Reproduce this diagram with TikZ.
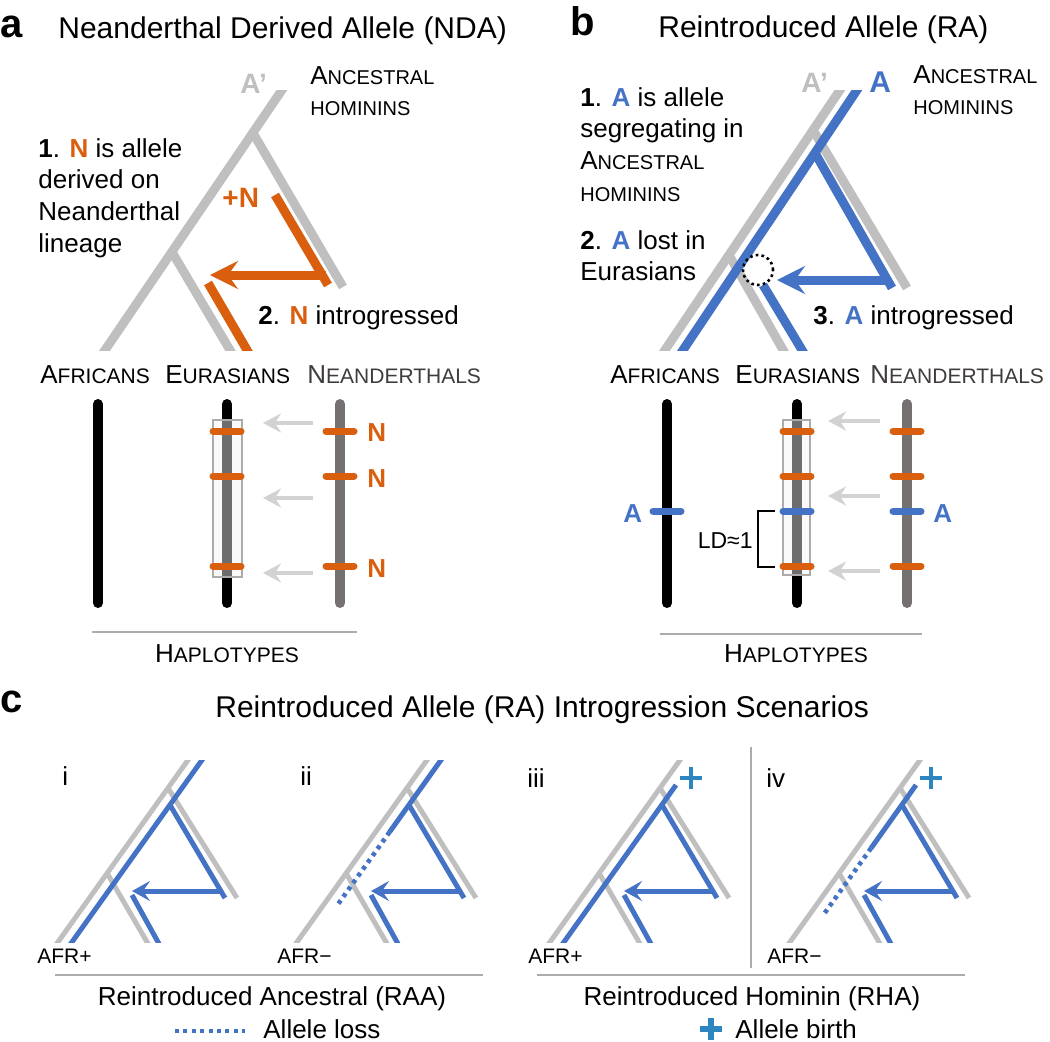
\documentclass[tikz,border=0pt]{standalone}
\usepackage{fontspec}
\setmainfont{Liberation Sans}
\usetikzlibrary{arrows.meta,calc}
\definecolor{ndaorange}{RGB}{217,95,14}
\definecolor{rablue}{RGB}{68,114,196}
\definecolor{treegray}{RGB}{191,191,191}
\definecolor{arrowgray}{RGB}{210,210,210}
\definecolor{neangray}{RGB}{118,113,113}
\definecolor{neantext}{RGB}{64,60,60}
\definecolor{birthblue}{RGB}{46,134,193}
\definecolor{linegray}{RGB}{175,171,171}
\newcommand{\smallcap}[2][10]{{\fontsize{#1}{12}\selectfont #2}}

\begin{document}
\begin{tikzpicture}[x=0.5pt,y=-0.5pt]
        %
        % `branch' is for the big trees, `twig' for the small ones in c.
        % `hap' and `snp' are the haplotype bars and their alleles.
        \tikzstyle{panel} = [font=\fontsize{20}{24}\selectfont\bfseries,anchor=base west,inner sep=0pt]
        \tikzstyle{heading} = [font=\fontsize{15}{18}\selectfont,anchor=base west,inner sep=0pt]
        \tikzstyle{body} = [font=\fontsize{13}{15.8}\selectfont,align=left,anchor=north west,inner sep=0pt]
        \tikzstyle{popn} = [font=\fontsize{13}{16}\selectfont,anchor=base west,inner sep=0pt]
        \tikzstyle{allele} = [font=\fontsize{13}{15}\selectfont\bfseries,anchor=base west,inner sep=0pt]
        \tikzstyle{roman} = [font=\fontsize{13}{16}\selectfont,anchor=base west,inner sep=0pt]
        \tikzstyle{afr} = [font=\fontsize{10.5}{12}\selectfont,anchor=base west,inner sep=0pt]
        \tikzstyle{caption} = [font=\fontsize{13}{15}\selectfont,inner sep=0pt]
        \tikzstyle{branch} = [line width=4.5pt]
        \tikzstyle{twig} = [line width=2.5pt]
        \tikzstyle{hap} = [line width=5pt,line cap=round]
        \tikzstyle{snp} = [line width=3.5pt,line cap=round]
        \tikzstyle{box} = [draw=linegray,line width=1.2pt,fill=black!5,fill opacity=0.45,inner sep=0pt]
        \tikzstyle{flow} = [arrowgray,line width=2pt,-{Stealth[length=9pt,width=9.5pt,inset=3pt]}]
        \tikzstyle{bigflow} = [-{Stealth[length=14pt,width=14pt,inset=5pt]}]
        \tikzstyle{smallflow} = [-{Stealth[length=9pt,width=10pt,inset=3.5pt]}]
        \tikzstyle{loss} = [rablue,line width=2.3pt,dash pattern=on 2pt off 2.2pt]
        \tikzstyle{birth} = [birthblue,line width=2.4pt]
        \tikzstyle{rule} = [linegray,line width=1.2pt]
        %
        \useasboundingbox (0,0) rectangle (1050,1041);
        %
        % Panel a: titles and notes
        \node[panel] (pa) at (0,37) {a};
        \node[heading] (ta) at (58,38) {Neanderthal Derived Allele (NDA)};
        \node[allele,treegray,font=\fontsize{14}{16}\selectfont\bfseries] (aprime) at (240,93) {A’};
        \node[body] (aanc) at (310,66) {A\smallcap{NCESTRAL}\\\smallcap{HOMININS}};
        \node[body] (astep1) at (38,138) {\textbf{1}. \textcolor{ndaorange}{\textbf{N}} is allele\\derived on\\Neanderthal\\lineage};
        \node[allele,ndaorange,font=\fontsize{14}{16}\selectfont\bfseries] (plusn) at (222,207) {+N};
        \node[body] (astep2) at (258,305) {\textbf{2}. \textcolor{ndaorange}{\textbf{N}} introgressed};
        %
        % Panel a: tree
        \begin{scope}
        \clip (0,90) rectangle (520,350);
        \coordinate (aroot) at (101,356);
        \coordinate (atop) at (286,84);
        \coordinate (ajn) at (253,133);
        \coordinate (anean) at (343,287);
        \coordinate (ajl) at (172,252);
        \coordinate (aeur) at (233.5,356);
        \draw[branch,treegray] (aroot) -- (atop);
        \draw[branch,treegray] (ajn) -- (anean);
        \draw[branch,treegray] (ajl) -- (aeur);
        \coordinate (nup) at (275,195);
        \coordinate (ndown) at (328,285);
        \coordinate (nfrom) at (326,275);
        \coordinate (nto) at (210,275);
        \coordinate (nin) at (208,283);
        \coordinate (nout) at (250.5,356);
        \draw[branch,ndaorange] (nup) -- (ndown);
        \draw[branch,ndaorange,bigflow] (nfrom) -- (nto);
        \draw[branch,ndaorange] (nin) -- (nout);
        \end{scope}
        %
        % Panel a: haplotypes
        \node[popn] (aafr) at (40,383) {A\smallcap[10.5]{FRICANS}};
        \node[popn] (aeas) at (165,383) {E\smallcap[10.5]{URASIANS}};
        \node[popn,neantext] (anea) at (307,383) {N\smallcap[10.5]{EANDERTHALS}};
        \coordinate (afrtop) at (98,404);
        \coordinate (afrbot) at (98,603);
        \coordinate (eurtop) at (227,404);
        \coordinate (eurbot) at (227,603);
        \coordinate (neatop) at (340,404);
        \coordinate (neabot) at (340,603);
        \draw[hap,black] (afrtop) -- (afrbot);
        \draw[hap,black] (eurtop) -- (eurbot);
        \draw[hap,neangray] (neatop) -- (neabot);
        \node[box,minimum width=14.5pt,minimum height=78.5pt] (ablock) at (227.5,498.5) {};
        \foreach \y in {431,476,566} {
            \draw[snp,ndaorange] (213,\y) -- (241,\y);
            \draw[snp,ndaorange] (326,\y) -- (354,\y);
        }
        \foreach \y/\k in {441/1,487/2,577/3}
            \node[allele,ndaorange] (nlab\k) at (367,\y) {N};
        \foreach \y/\k in {423/1,498/2,573/3} {
            \coordinate (afrom\k) at (313,\y);
            \coordinate (ato\k) at (263,\y);
            \draw[flow] (afrom\k) -- (ato\k);
        }
        \coordinate (ahl) at (92,632);
        \coordinate (ahr) at (357,632);
        \draw[rule] (ahl) -- (ahr);
        \node[popn,anchor=base] (ahap) at (227,662) {H\smallcap[10.5]{APLOTYPES}};
        %
        % Panel b: titles and notes
        \node[panel] (pb) at (570,35) {b};
        \node[heading] (tb) at (658,37) {Reintroduced Allele (RA)};
        \node[allele,treegray,font=\fontsize{14}{16}\selectfont\bfseries] (bprime) at (801,92) {A’};
        \node[allele,rablue,font=\fontsize{15}{17}\selectfont\bfseries] (ballele) at (869,92) {A};
        \node[body] (banc) at (913,65) {A\smallcap{NCESTRAL}\\\smallcap{HOMININS}};
        \node[body] (bstep1) at (580,87) {\textbf{1}. \textcolor{rablue}{\textbf{A}} is allele\\segregating in\\A\smallcap{NCESTRAL}\\\smallcap{HOMININS}};
        \node[body] (bstep2) at (580,230) {\textbf{2}. \textcolor{rablue}{\textbf{A}} lost in\\Eurasians};
        \node[body] (bstep3) at (813,305) {\textbf{3}. \textcolor{rablue}{\textbf{A}} introgressed};
        %
        % Panel b: tree
        \begin{scope}
        \clip (520,90) rectangle (1050,350);
        \coordinate (broot) at (661,356);
        \coordinate (btop) at (844,84);
        \coordinate (bjn) at (813,130);
        \coordinate (bnean) at (907,288);
        \coordinate (bjl) at (729,255);
        \coordinate (beur) at (786.5,356);
        \draw[branch,treegray] (broot) -- (btop);
        \draw[branch,treegray] (bjn) -- (bnean);
        \draw[branch,treegray] (bjl) -- (beur);
        \coordinate (aroot2) at (679,356);
        \coordinate (atop2) at (861,84);
        \coordinate (aup) at (815,153);
        \coordinate (adown) at (892,288);
        \coordinate (afrom) at (889,280);
        \coordinate (ato) at (777,280);
        \coordinate (ain) at (763,285);
        \coordinate (aout) at (805.6,356);
        \draw[branch,rablue] (aroot2) -- (atop2);
        \draw[branch,rablue] (aup) -- (adown);
        \draw[branch,rablue,bigflow] (afrom) -- (ato);
        \draw[branch,rablue] (ain) -- (aout);
        \end{scope}
        \node[draw,circle,line width=1.3pt,dash pattern=on 1.3pt off 1.6pt,minimum size=15pt,inner sep=0pt] (lost) at (758,270) {};
        %
        % Panel b: haplotypes
        \node[popn] (bafr) at (610,383) {A\smallcap[10.5]{FRICANS}};
        \node[popn] (beas) at (735,383) {E\smallcap[10.5]{URASIANS}};
        \node[popn,neantext] (bnea) at (870,383) {N\smallcap[10.5]{EANDERTHALS}};
        \coordinate (bafrtop) at (667,404);
        \coordinate (bafrbot) at (667,603);
        \coordinate (beurtop) at (797,404);
        \coordinate (beurbot) at (797,603);
        \coordinate (bneatop) at (907,404);
        \coordinate (bneabot) at (907,603);
        \draw[hap,black] (bafrtop) -- (bafrbot);
        \draw[hap,black] (beurtop) -- (beurbot);
        \draw[hap,neangray] (bneatop) -- (bneabot);
        \node[box,minimum width=13.5pt,minimum height=77.5pt] (bblock) at (796.5,497.5) {};
        \foreach \y in {431,476,566} {
            \draw[snp,ndaorange] (783,\y) -- (811,\y);
            \draw[snp,ndaorange] (893,\y) -- (921,\y);
        }
        \draw[snp,rablue] (783,511) -- (811,511);
        \draw[snp,rablue] (893,511) -- (921,511);
        \draw[snp,rablue] (653,511) -- (681,511);
        \node[allele,rablue] (alab1) at (623,522) {A};
        \node[allele,rablue] (alab2) at (933,522) {A};
        \foreach \y/\k in {421/1,496/2,571/3} {
            \coordinate (bfrom\k) at (880,\y);
            \coordinate (bto\k) at (828,\y);
            \draw[flow] (bfrom\k) -- (bto\k);
        }
        % LD bracket
        \coordinate (ldhi) at (775,511);
        \coordinate (ldlo) at (775,567);
        \draw[line width=0.9pt] (ldhi) -- ++(-17,0) |- (ldlo);
        \node[font=\fontsize{11.5}{14}\selectfont,anchor=base east,inner sep=0pt] (ld) at (753,548) {LD≈1};
        \coordinate (bhl) at (660,634);
        \coordinate (bhr) at (922,634);
        \draw[rule] (bhl) -- (bhr);
        \node[popn,anchor=base] (bhap) at (796,662) {H\smallcap[10.5]{APLOTYPES}};
        %
        % Panel c
        \node[panel] (pc) at (0,712) {c};
        \node[heading] (tc) at (215,717) {Reintroduced Allele (RA) Introgression Scenarios};
        \foreach \n/\ox in {i/58,ii/297,iii/550,iv/790} {
            \begin{scope}[shift={(\ox,942)}]
            \coordinate (\n-root) at (-4.3,6);
            \coordinate (\n-top) at (134.3,-188);
            \coordinate (\n-jn) at (110,-154);
            \coordinate (\n-nean) at (179,-44);
            \coordinate (\n-jl) at (49,-69);
            \coordinate (\n-eur) at (92.5,6);
            \coordinate (\n-broot) at (9.7,6);
            \coordinate (\n-btop) at (148.3,-188);
            \coordinate (\n-bbirth) at (126,-157);
            \coordinate (\n-plus) at (141,-164);
            \coordinate (\n-up) at (112,-137);
            \coordinate (\n-down) at (167,-44);
            \coordinate (\n-from) at (165,-51);
            \coordinate (\n-to) at (74,-51);
            \coordinate (\n-in) at (74,-47);
            \coordinate (\n-out) at (103.3,6);
            \begin{scope}
            \clip (-20,-182) rectangle (200,0);
            \draw[twig,treegray] (\n-root) -- (\n-top);
            \draw[twig,treegray] (\n-jn) -- (\n-nean);
            \draw[twig,treegray] (\n-jl) -- (\n-eur);
            \draw[twig,rablue] (\n-up) -- (\n-down);
            \draw[twig,rablue,smallflow] (\n-from) -- (\n-to);
            \draw[twig,rablue] (\n-in) -- (\n-out);
            \end{scope}
            \end{scope}
        }
        % Blue trunks
        \begin{scope}
        \clip (0,760) rectangle (1050,942);
        \draw[twig,rablue] (i-broot) -- (i-btop);
        \draw[twig,rablue] (ii-btop) -- ($(ii-broot)!0.598!(ii-btop)$) coordinate (ii-bcut);
        \draw[loss] (ii-bcut) -- ($(ii-broot)!0.222!(ii-btop)$) coordinate (ii-bend);
        \draw[twig,rablue] (iii-bbirth) -- (iii-broot);
        \draw[twig,rablue] (iv-bbirth) -- ($(iv-broot)!0.515!(iv-btop)$) coordinate (iv-bcut);
        \draw[loss] (iv-bcut) -- ($(iv-broot)!0.170!(iv-btop)$) coordinate (iv-bend);
        \end{scope}
        \draw[birth] (iii-plus) +(-11,0) -- +(11,0) (iii-plus) +(0,-11) -- +(0,11);
        \draw[birth] (iv-plus) +(-11,0) -- +(11,0) (iv-plus) +(0,-11) -- +(0,11);
        %
        \node[roman] (ri) at (62,785) {i};
        \node[roman] (rii) at (300,785) {ii};
        \node[roman] (riii) at (527,787) {iii};
        \node[roman] (riv) at (766,787) {iv};
        \node[afr] (afri) at (37,963) {AFR+};
        \node[afr] (afrii) at (277,963) {AFR−};
        \node[afr] (afriii) at (528,963) {AFR+};
        \node[afr] (afriv) at (767,963) {AFR−};
        %
        \coordinate (sept) at (751,747);
        \coordinate (sepb) at (751,968);
        \draw[rule] (sept) -- (sepb);
        \coordinate (raal) at (55,975);
        \coordinate (raar) at (483,975);
        \coordinate (rhal) at (537,975);
        \coordinate (rhar) at (965,975);
        \draw[rule] (raal) -- (raar);
        \draw[rule] (rhal) -- (rhar);
        \node[caption,anchor=base] (raa) at (272,1005) {Reintroduced Ancestral (RAA)};
        \node[caption,anchor=base] (rha) at (752,1005) {Reintroduced Hominin (RHA)};
        \coordinate (lossa) at (175,1031);
        \coordinate (lossb) at (245,1031);
        \draw[loss] (lossa) -- (lossb);
        \node[caption,anchor=base west] (lossl) at (263,1038) {Allele loss};
        \coordinate (birthc) at (711,1029);
        \draw[birth,line width=2.6pt] (birthc) +(-11,0) -- +(11,0) (birthc) +(0,-11) -- +(0,11);
        \node[caption,anchor=base west] (birthl) at (735,1038) {Allele birth};
        %
\end{tikzpicture}
\end{document}
